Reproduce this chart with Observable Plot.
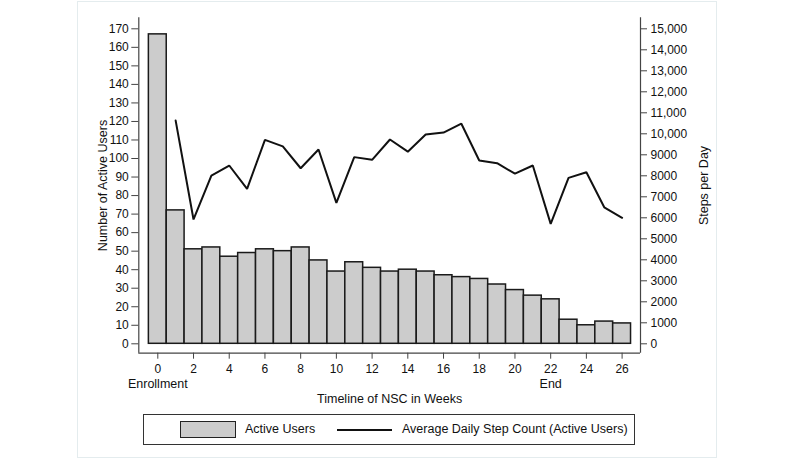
<!DOCTYPE html>
<html>
<head>
<meta charset="utf-8">
<script src="https://cdn.jsdelivr.net/npm/d3@7"></script>
<script src="https://cdn.jsdelivr.net/npm/@observablehq/plot@0.6"></script>
<style>
  html, body { margin: 0; padding: 0; background: #fff; }
  body { width: 795px; height: 467px; position: relative; overflow: hidden;
         font-family: "Liberation Sans", Arial, Helvetica, sans-serif; color: #111; }
  #frame { position: absolute; left: 77px; top: 1px; width: 640px; height: 457px;
           border: 1px solid #e4ecee; box-sizing: border-box; }
  #chart { position: absolute; left: 0; top: 0; }
  #legend { position: absolute; left: 143px; top: 414px; width: 492px; height: 31px;
            border: 1px solid #333; box-sizing: border-box; background: #fff; font-size: 12.5px; }
  .sw-bar { position: absolute; left: 36px; top: 6px; width: 56px; height: 17px;
            background: #cccccc; border: 1.5px solid #222; box-sizing: border-box; }
  .sw-line { position: absolute; left: 193px; top: 14px; width: 55px; height: 2px; background: #111; }
  .lab { position: absolute; top: 7px; white-space: nowrap; }
</style>
</head>
<body>
<div id="frame"></div>
<div id="chart"></div>
<div id="legend">
  <div class="sw-bar"></div><div class="lab" style="left:101px">Active Users</div>
  <div class="sw-line"></div><div class="lab" style="left:258px">Average Daily Step Count (Active Users)</div>
</div>
<script>
// Data
const weeks = d3.range(0, 27);
const activeUsers = [167, 72, 51, 52, 47, 49, 51, 50, 52, 45, 39, 44, 41, 39, 40, 39, 37, 36, 35, 32, 29, 26, 24, 13, 10, 12, 11];
const stepWeeks = d3.range(1, 27);
const avgSteps = [10630, 5920, 8010, 8490, 7380, 9710, 9400, 8360, 9250, 6710, 8890, 8760, 9730, 9150, 9970, 10060, 10480, 8730, 8600, 8100, 8490, 5710, 7900, 8170, 6500, 6000];
const leftTicks = d3.range(0, 171, 10);
const rightTicks = d3.range(0, 15001, 1000);
const xTicks = d3.range(0, 27, 2);
const xNotes = [{week: 0, text: "Enrollment"}, {week: 22, text: "End"}];

const stepsToUsers = 170 / 15000;
const xDomain = [-1.064, 27.03];
const yDomain = [-5.07, 175.94];

const bars = weeks.map((w, i) => ({week: w, users: activeUsers[i]}));
const line = stepWeeks.map((w, i) => ({week: w, steps: avgSteps[i]}));
const fmtSteps = v => v >= 10000 ? d3.format(",")(v) : String(v);

const axisColor = "#444";
const chart = Plot.plot({
  width: 795,
  height: 410,
  marginLeft: 138.3,
  marginRight: 155,
  marginTop: 17.3,
  marginBottom: 57.3,
  style: {fontFamily: '"Liberation Sans", Arial, Helvetica, sans-serif', fontSize: "12px", color: "#111", background: "transparent"},
  x: {domain: xDomain},
  y: {domain: yDomain},
  marks: [
    Plot.rectY(bars, {x1: d => d.week - 0.5, x2: d => d.week + 0.5, y1: 0, y2: "users", fill: "#cccccc", stroke: "#1a1a1a", strokeWidth: 1.5}),
    Plot.line(line, {x: "week", y: d => d.steps * stepsToUsers, stroke: "#111", strokeWidth: 2, strokeLinejoin: "miter"}),
    Plot.ruleX([xDomain[0]], {stroke: axisColor, strokeWidth: 1.2}),
    Plot.ruleX([xDomain[1]], {stroke: axisColor, strokeWidth: 1.2}),
    Plot.ruleY([yDomain[0]], {stroke: axisColor, strokeWidth: 1.2}),
    Plot.axisY(leftTicks, {anchor: "left", tickSize: 7, tickPadding: 3, label: null, stroke: axisColor, fontSize: 12}),
    Plot.axisY(rightTicks.map(v => v * stepsToUsers), {anchor: "right", tickSize: 6, tickPadding: 4, label: null, stroke: axisColor, fontSize: 12,
      tickFormat: d => fmtSteps(Math.round(d / stepsToUsers))}),
    Plot.axisX(xTicks, {anchor: "bottom", tickSize: 6, tickPadding: 5, label: null, stroke: axisColor, fontSize: 12}),
    Plot.text(xNotes, {x: "week", text: "text", frameAnchor: "bottom", dy: 30.6, lineAnchor: "middle", fontSize: 12.5, fill: "#111"}),
    Plot.text(["Timeline of NSC in Weeks"], {frameAnchor: "bottom", dy: 45.5, lineAnchor: "middle", fontSize: 12.5, fill: "#111"}),
    Plot.text(["Number of Active Users"], {frameAnchor: "left", dx: -36, rotate: -90, textAnchor: "middle", lineAnchor: "middle", fontSize: 12.5, fill: "#111"}),
    Plot.text(["Steps per Day"], {frameAnchor: "right", dx: 63, rotate: -90, textAnchor: "middle", lineAnchor: "middle", fontSize: 12.5, fill: "#111"})
  ]
});
document.getElementById("chart").appendChild(chart);
</script>
</body>
</html>
